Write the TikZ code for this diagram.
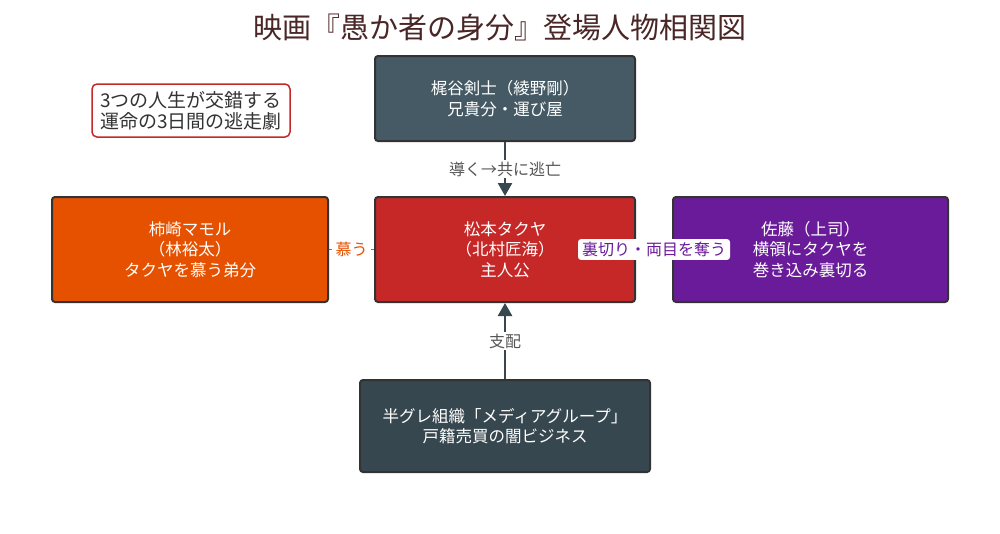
\documentclass[tikz,border=0pt]{standalone}
\usepackage{fontspec}
\setmainfont{Noto Sans CJK JP}
\usetikzlibrary{arrows.meta}
\definecolor{titlec}{HTML}{4A2626}
\definecolor{boxline}{HTML}{333333}
\definecolor{topfill}{HTML}{455A64}
\definecolor{centerfill}{HTML}{C62828}
\definecolor{leftfill}{HTML}{E65100}
\definecolor{rightfill}{HTML}{6A1B9A}
\definecolor{bottomfill}{HTML}{37474F}
\definecolor{connc}{HTML}{37474F}
\definecolor{lblgray}{HTML}{555555}
\tikzset{
  charbox/.style={draw=boxline, line width=2pt, rounded corners=3pt, text=white, align=center,
    font=\fontsize{16.5}{20.5}\selectfont, inner sep=0pt},
  conn/.style={draw=connc, line width=2.5pt, -{Triangle[width=14pt,length=13pt]}},
  lbl/.style={fill=white, inner sep=2pt, text=lblgray, font=\fontsize{16}{19}\selectfont},
}
\begin{document}
\begin{tikzpicture}[x=1pt,y=-1pt]
\useasboundingbox[fill=white] (0,0) rectangle (1000,533);
\node[text=titlec, font=\fontsize{29}{34}\selectfont] (title) at (500,27) {映画『愚か者の身分』登場人物相関図};
\node[draw=centerfill, line width=1.5pt, rounded corners=5pt, fill=white, align=center,
  minimum width=198pt, minimum height=53pt, inner sep=0pt, text=boxline,
  font=\fontsize{19}{21.5}\selectfont] (note) at (191,110.5) {3つの人生が交錯する\\運命の3日間の逃走劇};
\node[charbox, fill=topfill, minimum width=260pt, minimum height=85pt] (top) at (505,98.5) {梶谷剣士（綾野剛）\\兄貴分・運び屋};
\node[charbox, fill=centerfill, minimum width=260pt, minimum height=105pt] (center) at (505,249.5) {松本タクヤ\\（北村匠海）\\主人公};
\node[charbox, fill=leftfill, minimum width=276pt, minimum height=105pt] (left) at (190,249.5) {柿崎マモル\\（林裕太）\\タクヤを慕う弟分};
\node[charbox, fill=rightfill, minimum width=275pt, minimum height=105pt] (right) at (810.5,249.5) {佐藤（上司）\\横領にタクヤを\\巻き込み裏切る};
\node[charbox, fill=bottomfill, minimum width=290pt, minimum height=92pt] (bottom) at (505,426) {半グレ組織「メディアグループ」\\戸籍売買の闇ビジネス};
\draw[conn] (top) -- node[lbl] {導く→共に逃亡} (center);
\draw[conn] (bottom) -- node[lbl] {支配} (center);
\draw[draw=leftfill, line width=1.5pt, dash pattern=on 3pt off 3pt] (left) -- node[lbl, text=leftfill, inner sep=3pt] {慕う} (center);
\draw[draw=rightfill, line width=1.5pt] (right) -- node[lbl, text=rightfill, rounded corners=3pt, inner xsep=4pt, inner ysep=3pt] {裏切り・両目を奪う} (center);
\end{tikzpicture}
\end{document}
